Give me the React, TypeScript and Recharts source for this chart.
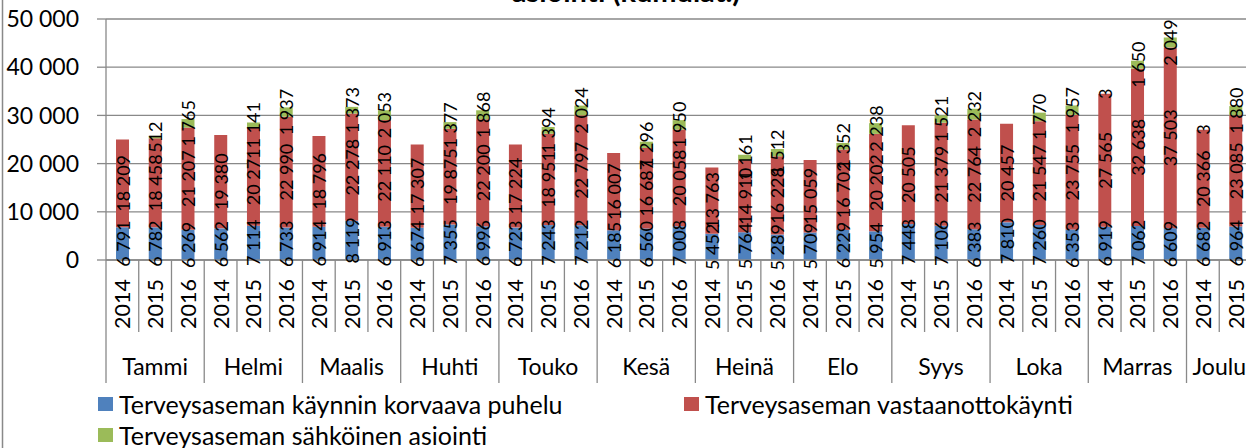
import { BarChart, Bar, XAxis, YAxis, CartesianGrid, LabelList } from 'recharts'

// months and the years shown for each (Joulu only has 2014 and 2015)
const months = ['Tammi', 'Helmi', 'Maalis', 'Huhti', 'Touko', 'Kesä', 'Heinä', 'Elo', 'Syys', 'Loka', 'Marras', 'Joulu']
const years = ['2014', '2015', '2016']
const yearsPerMonth = [3, 3, 3, 3, 3, 3, 3, 3, 3, 3, 3, 2]

const phone = [
  6791, 6782, 6269, 6562, 7114, 6733, 6914, 8119, 6913, 6674, 7355, 6996,
  6723, 7243, 7212, 6185, 6560, 7008, 5452, 5764, 5289, 5709, 6229, 5954,
  7448, 7106, 6383, 7810, 7260, 6353, 6919, 7062, 6609, 6682, 6964,
]
const visits = [
  18209, 18458, 21207, 19380, 20271, 22990, 18796, 22278, 22110, 17307, 19875, 22200,
  17224, 18951, 22797, 16007, 16687, 20058, 13763, 14910, 16228, 15059, 16702, 20202,
  20505, 21379, 22764, 20457, 21547, 23755, 27565, 32638, 37503, 20366, 23085,
]
const online = [
  0, 512, 1765, 0, 1141, 1937, 0, 1373, 2053, 0, 1377, 1868,
  0, 1394, 2024, 0, 1296, 1950, 0, 1161, 1512, 0, 1352, 2238,
  0, 1521, 2232, 0, 1770, 1957, 3, 1650, 2049, 3, 1880,
]

const yTicks = [0, 10000, 20000, 30000, 40000, 50000]

const seriesNames = [
  'Terveysaseman käynnin korvaava puhelu',
  'Terveysaseman vastaanottokäynti',
  'Terveysaseman sähköinen asiointi',
]
const colors = ['#4F81BD', '#C0504D', '#9BBB59']

// build rows
const rows: any[] = []
months.forEach((m, mi) => {
  for (let k = 0; k < yearsPerMonth[mi]; k++) {
    const i = rows.length
    rows.push({
      key: `${m}-${years[k]}`,
      month: m,
      year: years[k],
      first: k === 0,
      groupSize: yearsPerMonth[mi],
      phone: phone[i],
      visits: visits[i],
      online: online[i],
    })
  }
})

const W = 1262
const H = 448
const PLOT_LEFT = 106
const PLOT_RIGHT = 1252
const PLOT_TOP = 19
const AXIS_Y = 260
const BAND = (PLOT_RIGHT - PLOT_LEFT) / rows.length
const GRID = '#898989'
const FONT = 'Lato, "Open Sans", sans-serif'

const fmt = (v: number) => String(v).replace(/\B(?=(\d{3})+(?!\d))/g, ' ')

function CategoryTick(props: any) {
  const { x, payload } = props
  const i = props.index ?? payload.index
  const row = rows[i]
  if (!row) return null
  const left = x - BAND / 2
  return (
    <g>
      <line x1={left} x2={left} y1={AXIS_Y} y2={row.first ? 383 : 332} stroke={GRID} strokeWidth={1.3} />
      {i === rows.length - 1 && (
        <line x1={x + BAND / 2} x2={x + BAND / 2} y1={AXIS_Y} y2={383} stroke={GRID} strokeWidth={1.3} />
      )}
      <text
        transform={`translate(${x},279) rotate(-90)`}
        textAnchor="end"
        dominantBaseline="central"
        fontFamily={FONT}
        fontSize={21.5}
        fill="#000"
      >
        {row.year}
      </text>
      {row.first && (
        <text
          x={x + ((row.groupSize - 1) / 2) * BAND}
          y={366}
          textAnchor="middle"
          dominantBaseline="central"
          fontFamily={FONT}
          fontSize={23}
          fill="#000"
        >
          {row.month}
        </text>
      )}
    </g>
  )
}

function SegmentLabel(props: any) {
  const { x, y, width, height, value } = props
  if (!value) return null
  const cx = x + width / 2
  const cy = y + height / 2
  return (
    <text
      transform={`translate(${cx},${cy}) rotate(-90)`}
      textAnchor="middle"
      dominantBaseline="central"
      fontFamily={FONT}
      fontSize={18}
      fill="#000"
    >
      {fmt(value)}
    </text>
  )
}

function LegendItem({ x, y, color, label }: { x: number; y: number; color: string; label: string }) {
  return (
    <g>
      <rect x={x} y={y - 7} width={15} height={14} fill={color} />
      <text x={x + 21} y={y} dominantBaseline="central" fontFamily={FONT} fontSize={25} fill="#000">
        {label}
      </text>
    </g>
  )
}

export default function App() {
  return (
    <div style={{ width: 1246, height: H, overflow: 'hidden', position: 'relative', background: '#fff' }}>
      <style>{'body{margin:0}'}</style>
      <BarChart
        width={W}
        height={H}
        data={rows}
        margin={{ top: PLOT_TOP, right: W - PLOT_RIGHT, bottom: 0, left: 0 }}
        barSize={13}
      >
        <CartesianGrid vertical={false} stroke={GRID} strokeWidth={1.3} strokeDasharray="" />
        <XAxis
          dataKey="key"
          interval={0}
          height={H - AXIS_Y}
          tickLine={false}
          axisLine={{ stroke: GRID, strokeWidth: 1.3 }}
          tick={<CategoryTick />}
        />
        <YAxis
          width={PLOT_LEFT}
          domain={[0, 50000]}
          ticks={yTicks}
          interval={0}
          tickFormatter={fmt}
          tickSize={9}
          tickMargin={18}
          axisLine={{ stroke: GRID, strokeWidth: 1.3 }}
          tickLine={{ stroke: GRID, strokeWidth: 1.3 }}
          tick={{ fontFamily: FONT, fontSize: 23, fill: '#000' }}
        />
        <Bar dataKey="phone" stackId="a" fill={colors[0]} isAnimationActive={false}>
          <LabelList dataKey="phone" content={<SegmentLabel />} />
        </Bar>
        <Bar dataKey="visits" stackId="a" fill={colors[1]} isAnimationActive={false}>
          <LabelList dataKey="visits" content={<SegmentLabel />} />
        </Bar>
        <Bar dataKey="online" stackId="a" fill={colors[2]} isAnimationActive={false}>
          <LabelList dataKey="online" content={<SegmentLabel />} />
        </Bar>

        {/* title, cut off at the top like in the source */}
        <text x={626} y={2} textAnchor="middle" fontFamily={FONT} fontWeight="bold" fontSize={29} fill="#000">
          asiointi (kumulat.)
        </text>

        {/* chart frame, left edge */}
        <line x1={2.5} x2={2.5} y1={0} y2={H} stroke={GRID} strokeWidth={1.5} />

        {/* legend */}
        <LegendItem x={98} y={404} color={colors[0]} label={seriesNames[0]} />
        <LegendItem x={684} y={404} color={colors[1]} label={seriesNames[1]} />
        <LegendItem x={98} y={435} color={colors[2]} label={seriesNames[2]} />
      </BarChart>
    </div>
  )
}
